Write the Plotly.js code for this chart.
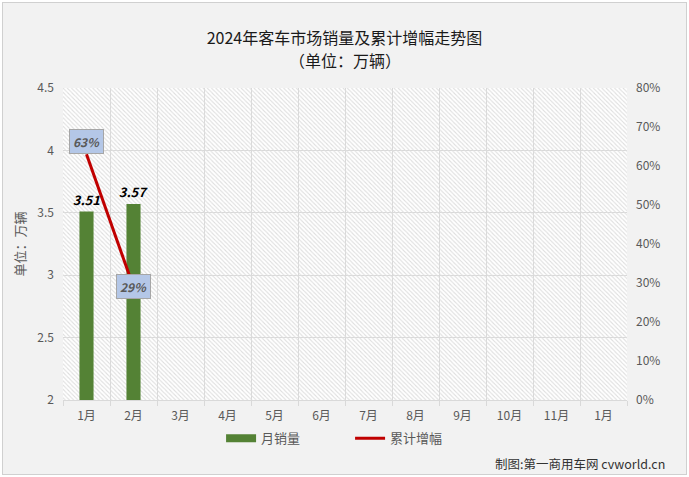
<!DOCTYPE html>
<html>
<head>
<meta charset="utf-8">
<script src="https://cdn.plot.ly/plotly-3.0.1.min.js"></script>
<style>
  html, body { margin: 0; padding: 0; background: #ffffff; }
  #wrap { position: relative; width: 689px; height: 477px; }
  #chart { position: absolute; left: 0; top: 0; width: 689px; height: 477px; }
  #frame { position: absolute; left: 0; top: 0; width: 689px; height: 477px; box-sizing: border-box;
           border: 2px solid #ffffff; pointer-events: none; }
  #frame div { width: 100%; height: 100%; box-sizing: border-box; border: 1px solid #d0d0d0; }
</style>
</head>
<body>
<div id="wrap">
  <div id="chart"></div>
  <div id="frame"><div></div></div>
</div>
<script>
const categories = ["1月","2月","3月","4月","5月","6月","7月","8月","9月","10月","11月","1月"];
const salesMonths = [0, 1];
const sales = [3.51, 3.57];
const growth = [0.63, 0.29];
const growthLabels = ["63%", "29%"];
const leftRange = [2, 4.5];
const rightRange = [0, 0.8];

const idx = categories.map((c, i) => i);
const FONT = '"Noto Sans CJK SC", "Noto Sans", sans-serif';

const bgTrace = {
  type: 'bar', x: idx, y: idx.map(() => leftRange[1] - leftRange[0]), base: leftRange[0],
  width: 1, hoverinfo: 'skip', showlegend: false,
  marker: { color: 'rgba(0,0,0,0)', line: { width: 0 },
            pattern: { shape: '\\', fgcolor: '#dedede', bgcolor: 'rgba(0,0,0,0)', size: 3, solidity: 0.35 } }
};

const barTrace = {
  type: 'bar', name: '月销量', x: salesMonths, y: sales.map(v => v - leftRange[0]), base: leftRange[0],
  width: 0.3, marker: { color: '#548235' }, showlegend: false,
  text: sales.map(v => '<b><i>' + v.toFixed(2) + '</i></b>'), textposition: 'outside',
  constraintext: 'none',
  textfont: { family: FONT, size: 13, color: '#000000' }, cliponaxis: false
};

const barLegend = {
  type: 'scatter', mode: 'lines', name: '月销量', x: [null], y: [null],
  line: { color: '#548235', width: 8 }, hoverinfo: 'skip'
};

const lineTrace = {
  type: 'scatter', mode: 'lines', name: '累计增幅', x: salesMonths, y: growth, yaxis: 'y2',
  line: { color: '#c00000', width: 3 }
};

const labelShift = [13, 0];
const annotations = growth.map((g, i) => ({
  x: salesMonths[i], y: g, xref: 'x', yref: 'y2', yshift: labelShift[i],
  text: '<b><i>' + growthLabels[i] + '</i></b>', showarrow: false,
  font: { family: FONT, size: 12, color: '#595959' },
  bgcolor: '#b4c7e7', bordercolor: '#a6a6a6', borderwidth: 1, borderpad: 3
}));
annotations.push({
  x: 0.5, y: (400 - 60) / 312, xref: 'paper', yref: 'paper', xanchor: 'center', yanchor: 'middle',
  text: '（单位：万辆）', showarrow: false,
  font: { family: FONT, size: 16, color: '#1a1a1a' }
});
annotations.push({
  x: 1.071, y: -0.205, xref: 'paper', yref: 'paper', xanchor: 'right', yanchor: 'middle',
  text: '制图:第一商用车网 cvworld.cn', showarrow: false,
  font: { family: FONT, size: 12.5, color: '#333333' }
});

const layout = {
  width: 689, height: 477,
  margin: { l: 63, r: 62, t: 88, b: 77 },
  paper_bgcolor: '#f2f2f2', plot_bgcolor: '#ffffff',
  barmode: 'overlay',
  title: { text: '2024年客车市场销量及累计增幅走势图', x: 0.5, xanchor: 'center',
           y: 1 - 38 / 477, yanchor: 'middle', font: { family: FONT, size: 16, color: '#1a1a1a' } },
  xaxis: {
    range: [-0.5, 11.5], tickmode: 'array', tickvals: idx, ticktext: categories,
    showgrid: false, zeroline: false, ticks: '', showline: true, linecolor: '#d9d9d9',
    ticklabelstandoff: 5,
    tickfont: { family: FONT, size: 12, color: '#595959' },
    minor: { tickmode: 'array', tickvals: idx.map(i => i - 0.5).concat([11.5]), showgrid: true,
             gridcolor: '#d9d9d9', gridwidth: 1, ticks: 'outside', ticklen: 5, tickcolor: '#d9d9d9' },
    fixedrange: true
  },
  yaxis: {
    range: leftRange, dtick: 0.5, showgrid: true, gridcolor: '#d9d9d9', zeroline: false,
    tickfont: { family: FONT, size: 12, color: '#595959' }, ticks: '', ticklabelstandoff: 8,
    title: { text: '单位：万辆', font: { family: FONT, size: 13, color: '#595959' }, standoff: 8 },
    fixedrange: true
  },
  yaxis2: {
    range: rightRange, dtick: 0.1, tickformat: '.0%', overlaying: 'y', side: 'right',
    showgrid: false, zeroline: false, ticks: '', ticklabelstandoff: 8,
    tickfont: { family: FONT, size: 12, color: '#595959' }, fixedrange: true
  },
  legend: { orientation: 'h', x: 0.509, xanchor: 'center', y: -0.123, yanchor: 'middle',
            font: { family: FONT, size: 13, color: '#595959' }, bgcolor: 'rgba(0,0,0,0)',
            itemwidth: 30, tracegroupgap: 0, traceorder: 'normal', entrywidth: 84 },
  annotations: annotations,
  showlegend: true
};

Plotly.newPlot('chart', [bgTrace, barTrace, barLegend, lineTrace], layout, { displayModeBar: false, staticPlot: true });
</script>
</body>
</html>
